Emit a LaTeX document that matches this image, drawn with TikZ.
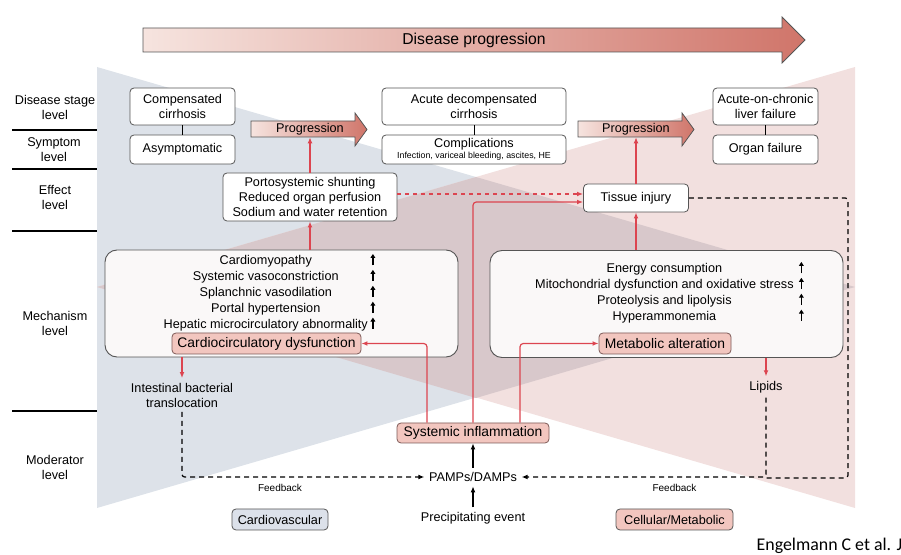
\documentclass[tikz,border=0pt]{standalone}
\usepackage{fontspec}
\setmainfont{Liberation Sans}
\newfontfamily\citefont{Carlito}
\usetikzlibrary{arrows.meta}
\definecolor{boxgray}{HTML}{555555}
\definecolor{redline}{HTML}{DC4550}
\definecolor{pinkfill}{HTML}{F2C6BF}
\definecolor{pinkedge}{HTML}{7D5A57}
\definecolor{bluefill}{HTML}{DCE1EA}
\definecolor{bgblue}{HTML}{DDE2E9}
\definecolor{bgpink}{HTML}{F2E0DF}
\definecolor{bgmix}{HTML}{D8C8CB}
\definecolor{gradA}{HTML}{F6E4DF}
\definecolor{gradB}{HTML}{D0756A}
\definecolor{mechfill}{HTML}{FAF8F8}
\newcommand{\lblsize}{\fontsize{9.5}{11.25}\selectfont}
\newcommand{\keysize}{\fontsize{10.4}{12}\selectfont}
\newcommand{\tinysize}{\fontsize{6.6}{8}\selectfont}
\newcommand{\uarr}{\tikz[x=1pt, y=1pt, baseline=0pt]
  \draw[line width=1.1pt, -{Triangle[length=3pt, width=3.6pt]}] (0,-0.5) -- (0,8);}
\begin{document}
\begin{tikzpicture}[x=0.75pt, y=-0.75pt, >={Latex[length=4.5pt,width=3.6pt]},
  box/.style={draw=boxgray, fill=white, rounded corners=3pt, line width=0.6pt,
    align=center, inner sep=0pt, font=\lblsize},
  keybox/.style={draw=pinkedge, fill=pinkfill, rounded corners=3pt, line width=0.6pt,
    inner sep=0pt, minimum height=15.75pt, font=\keysize},
  mechbox/.style={draw=boxgray, fill=mechfill, rounded corners=9pt, line width=0.7pt,
    minimum width=264.75pt, minimum height=80.25pt},
  level/.style={align=center, font=\lblsize},
  redarrow/.style={->, redline, line width=0.9pt, rounded corners=2.5pt},
  feedback/.style={dashed, dash pattern=on 3.75pt off 3pt, line width=0.9pt, rounded corners=2pt},
  progarrow/.style={draw=boxgray, line width=0.6pt, left color=gradA, right color=gradB}]
\useasboundingbox (0,0) rectangle (901,555);
\fill[bgblue] (97,67) -- (855,287) -- (97,508) -- cycle;
\fill[bgpink] (855,67) -- (97,287) -- (855,508) -- cycle;
\fill[bgmix] (97,287) -- (476,177) -- (855,287) -- (476,398) -- cycle;

\path[progarrow] (143,28) -- (782,28) -- (782,17) -- (805,40) -- (782,63) -- (782,52) -- (143,52) -- cycle;
\node (dprog) at (474,40) [font=\fontsize{11.8}{14}\selectfont] {Disease progression};
\path[progarrow] (251,121) -- (355,121) -- (355,113) -- (367,129.5) -- (355,146) -- (355,137) -- (251,137) -- cycle;
\node (prog1) at (310,129) [font=\lblsize, minimum height=12pt, inner sep=0pt] {Progression};
\path[progarrow] (578,121) -- (682,121) -- (682,113) -- (694,129.5) -- (682,146) -- (682,137) -- (578,137) -- cycle;
\node (prog2) at (636,129) [font=\lblsize, minimum height=12pt, inner sep=0pt] {Progression};

\node (lvstage) at (55,107) [level] {Disease stage\\level};
\node (lvsymp) at (54,150) [level] {Symptom\\level};
\node (lveffect) at (55,197) [level] {Effect\\level};
\node (lvmech) at (55,323) [level] {Mechanism\\level};
\node (lvmod) at (55,467) [level] {Moderator\\level};
\draw[line width=0.9pt] (12,130) -- (97,130);
\draw[line width=0.9pt] (12,169) -- (97,169);
\draw[line width=0.9pt] (12,231) -- (97,231);
\draw[line width=0.9pt] (12,411) -- (97,411);

\node (comp) at (182.5,106.5) [box, minimum width=78.75pt, minimum height=27.75pt] {Compensated\\cirrhosis};
\node (asym) at (182.5,149.5) [box, minimum width=78.75pt, minimum height=21.75pt] {Asymptomatic};
\node (adc) at (474,106.5) [box, minimum width=138pt, minimum height=27.75pt] {Acute decompensated\\cirrhosis};
\node (compl) at (474,149.5) [box, minimum width=138pt, minimum height=21.75pt]
  {Complications\\[-3pt]{\tinysize Infection, variceal bleeding, ascites, HE}};
\node (aclf) at (765.5,106.5) [box, minimum width=78.75pt, minimum height=27.75pt] {Acute-on-chronic\\liver failure};
\node (organ) at (765.5,149.5) [box, minimum width=78.75pt, minimum height=21.75pt] {Organ failure};
\draw[line width=0.7pt] (comp) -- (asym);
\draw[line width=0.7pt] (adc) -- (compl);
\draw[line width=0.7pt] (aclf) -- (organ);

\node (porto) at (310,197) [box, minimum width=130.5pt, minimum height=36pt]
  {Portosystemic shunting\\Reduced organ perfusion\\Sodium and water retention};
\node (ti) at (636,198) [box, minimum width=78.75pt, minimum height=21pt] {Tissue injury};

\node (mechL) at (281.5,303.5) [mechbox] {};
\node (mechR) at (666.5,304) [mechbox] {};
\node (cardlist) at (269.5,293) [font=\lblsize, inner sep=0pt] {\begin{tabular}{@{}c@{\hspace{2pt}}c@{}}
  Cardiomyopathy & \uarr\\
  Systemic vasoconstriction & \uarr\\
  Splanchnic vasodilation & \uarr\\
  Portal hypertension & \uarr\\
  Hepatic microcirculatory abnormality & \uarr
\end{tabular}};
\node (metlist) at (669.5,293) [font=\lblsize, inner sep=0pt] {\begin{tabular}{@{}c@{\hspace{4pt}}c@{}}
  Energy consumption & \uarr\\
  Mitochondrial dysfunction and oxidative stress & \uarr\\
  Proteolysis and lipolysis & \uarr\\
  Hyperammonemia & \uarr
\end{tabular}};
\node (cardio) at (266.5,343.5) [keybox, minimum width=141.75pt] {Cardiocirculatory dysfunction};
\node (metab) at (665,343.5) [keybox, minimum width=99pt] {Metabolic alteration};
\node (si) at (473,433) [keybox, minimum width=114pt, minimum height=15pt] {Systemic inflammation};

\node (transloc) at (182,395) [level] {Intestinal bacterial\\translocation};
\node (lipids) at (766,387) [font=\lblsize] {Lipids};
\node (pamps) at (473,477) [font=\lblsize] {PAMPs/DAMPs};
\node (precip) at (473,518) [font=\lblsize] {Precipitating event};
\node (feedL) at (280,488) [font=\fontsize{7.5}{9}\selectfont] {Feedback};
\node (feedR) at (674.5,488) [font=\fontsize{7.5}{9}\selectfont] {Feedback};
\node (cvleg) at (280,519.5) [draw=boxgray, fill=bluefill, rounded corners=3pt, line width=0.6pt,
  inner sep=0pt, minimum width=72pt, minimum height=15.75pt, font=\lblsize] {Cardiovascular};
\node (cmleg) at (674.5,519.5) [draw=boxgray, fill=pinkfill, rounded corners=3pt, line width=0.6pt,
  inner sep=0pt, minimum width=87.75pt, minimum height=15.75pt, font=\lblsize] {Cellular/Metabolic};
\node (cite) at (752,546) [anchor=west, font=\citefont\fontsize{13.4}{15}\selectfont] {Engelmann C et al. J};

\draw[redarrow] (porto.north) -- (prog1.south);
\draw[redarrow] (mechL.north -| porto) -- (porto.south);
\draw[redarrow] (ti.north) -- (prog2.south);
\draw[redarrow] (mechR.north -| ti) -- (ti.south);
\draw[redarrow, dashed] ([yshift=3pt]ti.west -| porto.east) -- ([yshift=3pt]ti.west);
\draw[redarrow] (si.north) |- ([yshift=-3pt]ti.west);
\draw[redarrow] ([xshift=-34.5pt]si.north) |- (cardio.east);
\draw[redarrow] ([xshift=35.25pt]si.north) |- (metab.west);
\draw[redarrow] (mechL.south -| transloc) -- (transloc.north);
\draw[redarrow] (mechR.south -| lipids) -- (lipids.north);
\draw[->, line width=0.8pt] (pamps) -- (si);
\draw[->, line width=0.8pt] (precip) -- (pamps);
\draw[feedback, ->] (transloc.south) |- (pamps.west);
\draw[feedback, ->] (lipids.south) |- (pamps.east);
\coordinate (fbturn) at (848,478);
\draw[feedback] (ti.east) -| (fbturn) -- (fbturn -| lipids);
\end{tikzpicture}
\end{document}
